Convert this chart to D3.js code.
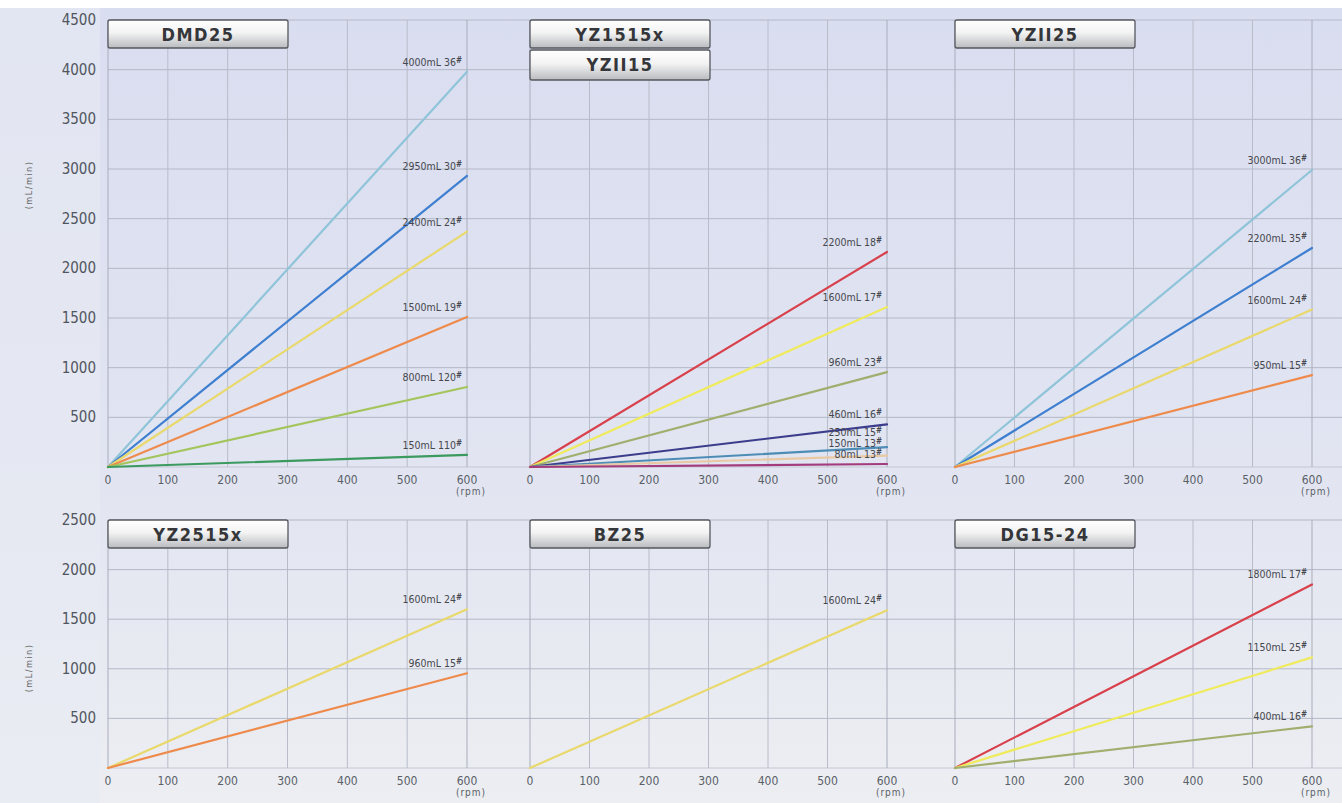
<!DOCTYPE html>
<html><head><meta charset="utf-8">
<script src="https://cdn.jsdelivr.net/npm/d3@7"></script>
<style>
html,body{margin:0;padding:0;background:#e4e7f1;}
svg{display:block;}
</style></head>
<body><svg id="c" width="1342" height="803"></svg>
<script>
// ---------- DATA ----------
const xTicks = [0, 100, 200, 300, 400, 500, 600];
const topYTicks = [500, 1000, 1500, 2000, 2500, 3000, 3500, 4000, 4500];
const bottomYTicks = [500, 1000, 1500, 2000, 2500];

const panelTitles = [["DMD25"], ["YZ1515x", "YZII15"], ["YZII25"], ["YZ2515x"], ["BZ25"], ["DG15-24"]];

const dmd25Labels = ["4000mL 36", "2950mL 30", "2400mL 24", "1500mL 19", "800mL 120", "150mL 110"];
const dmd25Values = [3980, 2930, 2370, 1510, 805, 122];

const yz1515Labels = ["2200mL 18", "1600mL 17", "960mL 23", "460mL 16", "250mL 15", "150mL 13", "80mL 13"];
const yz1515Values = [2165, 1610, 955, 430, 200, 115, 30];

const yzii25Labels = ["3000mL 36", "2200mL 35", "1600mL 24", "950mL 15"];
const yzii25Values = [2990, 2205, 1585, 925];

const yz2515Labels = ["1600mL 24", "960mL 15"];
const yz2515Values = [1600, 955];

const bz25Labels = ["1600mL 24"];
const bz25Values = [1590];

const dg1524Labels = ["1800mL 17", "1150mL 25", "400mL 16"];
const dg1524Values = [1850, 1115, 420];

// ---------- STYLES ----------
const C = {lb:"#8fc4d9", bl:"#3f7fd0", ye:"#e9d96c", or:"#ee8b4c", lg:"#a3c55c", dg:"#3c9a5e",
           rd:"#d8414c", ly:"#efeb5c", ol:"#a0ae6e", nv:"#3b3d8c", tl:"#4d8db5", tn:"#e9c9a4", pu:"#a33c7c"};
const dmd25Colors = [C.lb, C.bl, C.ye, C.or, C.lg, C.dg];
const yz1515Colors = [C.rd, C.ly, C.ol, C.nv, C.tl, C.tn, C.pu];
const yzii25Colors = [C.lb, C.bl, C.ye, C.or];
const yz2515Colors = [C.ye, C.or];
const bz25Colors = [C.ye];
const dg1524Colors = [C.rd, C.ly, C.ol];

const panels = [
  {row:0, col:0, labels:dmd25Labels, values:dmd25Values, colors:dmd25Colors},
  {row:0, col:1, labels:yz1515Labels, values:yz1515Values, colors:yz1515Colors},
  {row:0, col:2, labels:yzii25Labels, values:yzii25Values, colors:yzii25Colors},
  {row:1, col:0, labels:yz2515Labels, values:yz2515Values, colors:yz2515Colors},
  {row:1, col:1, labels:bz25Labels, values:bz25Values, colors:bz25Colors},
  {row:1, col:2, labels:dg1524Labels, values:dg1524Values, colors:dg1524Colors}
];
panels.forEach((p,i)=>p.title = panelTitles[i]);

// ---------- LAYOUT ----------
const W = 1342, H = 803;
const colX = [[108, 467], [530, 887], [955, 1312]];
const rowY = [{range:[467, 20], max:4500, ticks:topYTicks}, {range:[768, 520], max:2500, ticks:bottomYTicks}];

const svg = d3.select("#c");
const defs = svg.append("defs");
const bg = defs.append("linearGradient").attr("id","bg").attr("x1",0).attr("y1",0).attr("x2",0).attr("y2",1);
bg.append("stop").attr("offset","0%").attr("stop-color","#d9ddf0");
bg.append("stop").attr("offset","55%").attr("stop-color","#e1e4f1");
bg.append("stop").attr("offset","100%").attr("stop-color","#eceef2");
const btn = defs.append("linearGradient").attr("id","btn").attr("x1",0).attr("y1",0).attr("x2",0).attr("y2",1);
btn.append("stop").attr("offset","0%").attr("stop-color","#ffffff");
btn.append("stop").attr("offset","45%").attr("stop-color","#f3f3f3");
btn.append("stop").attr("offset","100%").attr("stop-color","#b9bbbf");

svg.append("rect").attr("width",W).attr("height",H).attr("fill","url(#bg)");
svg.append("rect").attr("x",0).attr("y",8).attr("width",100).attr("height",H).attr("fill","#e8ebf4").attr("opacity",0.6);
svg.append("rect").attr("x",0).attr("y",0).attr("width",W).attr("height",8).attr("fill","#ffffff");

const fontTick = "'DejaVu Sans Condensed','DejaVu Sans',sans-serif";

rowY.forEach((r, ri) => {
  const y = d3.scaleLinear().domain([0, r.max]).range(r.range);
  svg.append("g").selectAll("line").data(r.ticks).join("line")
    .attr("x1", 108).attr("x2", W).attr("y1", d=>y(d)).attr("y2", d=>y(d))
    .attr("stroke", "#b4b8c6").attr("stroke-width", 1);
  svg.append("line").attr("x1",108).attr("x2",W).attr("y1",y(0)).attr("y2",y(0))
    .attr("stroke","#c4c8d4").attr("stroke-width",1);
  svg.append("g").selectAll("text").data(r.ticks).join("text")
    .attr("x", 96).attr("y", d=>y(d)+5).attr("text-anchor","end")
    .attr("font-family", fontTick).attr("font-size", 15).attr("fill","#50555e")
    .text(d=>d);
  const cy = ri===0 ? 185 : 668;
  svg.append("text").attr("transform",`translate(32,${cy}) rotate(-90)`)
    .attr("text-anchor","middle").attr("font-family",fontTick).attr("font-size",9)
    .attr("fill","#666").attr("letter-spacing",1.5).text("(mL/min)");
});

panels.forEach(p => {
  const x = d3.scaleLinear().domain([0, 600]).range(colX[p.col]);
  const r = rowY[p.row];
  const y = d3.scaleLinear().domain([0, r.max]).range(r.range);
  const g = svg.append("g");
  g.append("g").selectAll("line").data(xTicks).join("line")
    .attr("x1", d=>x(d)).attr("x2", d=>x(d)).attr("y1", y(r.max)).attr("y2", y(0))
    .attr("stroke", (d)=> (d===0||d===600) ? "#a8adbb" : "#b8bcc9").attr("stroke-width",1);
  g.append("g").selectAll("text").data(xTicks).join("text")
    .attr("x", d=>x(d)).attr("y", y(0)+17).attr("text-anchor","middle")
    .attr("font-family", fontTick).attr("font-size", 12).attr("fill","#5a5f68")
    .text(d=>d);
  g.append("text").attr("x", x(600)+4).attr("y", y(0)+28).attr("text-anchor","middle")
    .attr("font-family", fontTick).attr("font-size", 10).attr("fill","#5a5f68")
    .attr("letter-spacing",1).text("(rpm)");
  p.title.forEach((t, ti) => {
    const bx = x(0), by = y(r.max) + ti*30;
    g.append("rect").attr("x", bx).attr("y", by).attr("width", 180).attr("height", ti===0?28:30)
      .attr("rx", 2).attr("fill","url(#btn)").attr("stroke","#55585e").attr("stroke-width",1.3);
    g.append("text").attr("x", bx+90).attr("y", by+21).attr("text-anchor","middle")
      .attr("font-family","'DejaVu Sans Condensed','DejaVu Sans',sans-serif").attr("font-weight","bold")
      .attr("font-size",18).attr("letter-spacing",1.5).attr("fill","#34363a").text(t);
  });
  const line = d3.line().x(d=>x(d[0])).y(d=>y(d[1]));
  p.values.forEach((v, i) => {
    const pts = [[0,0],[600,v]];
    g.append("path").attr("d", line(pts)).attr("fill","none")
      .attr("stroke", p.colors[i]).attr("stroke-width", 2.2).attr("stroke-linecap","round");
  });
  // labels with simple bottom-up dodge so crowded ones don't collide
  const order = d3.range(p.values.length).sort((a,b)=>p.values[a]-p.values[b]);
  const base = [];
  let prev = y(0) + 5;
  order.forEach(i => {
    const b = Math.min(y(p.values[i]) - 6, prev - 11);
    base[i] = b; prev = b;
  });
  p.values.forEach((v, i) => {
    const crowded = base[i] < y(v) - 7;
    const t = g.append("text").attr("x", x(600)-5).attr("y", base[i]).attr("text-anchor","end")
      .attr("font-family", fontTick).attr("font-size", 10.5).attr("fill","#45484e");
    t.append("tspan").text(p.labels[i]);
    t.append("tspan").attr("dy",-3).attr("font-size",8).attr("font-weight","bold").text("#");
  });
});
</script></body></html>
